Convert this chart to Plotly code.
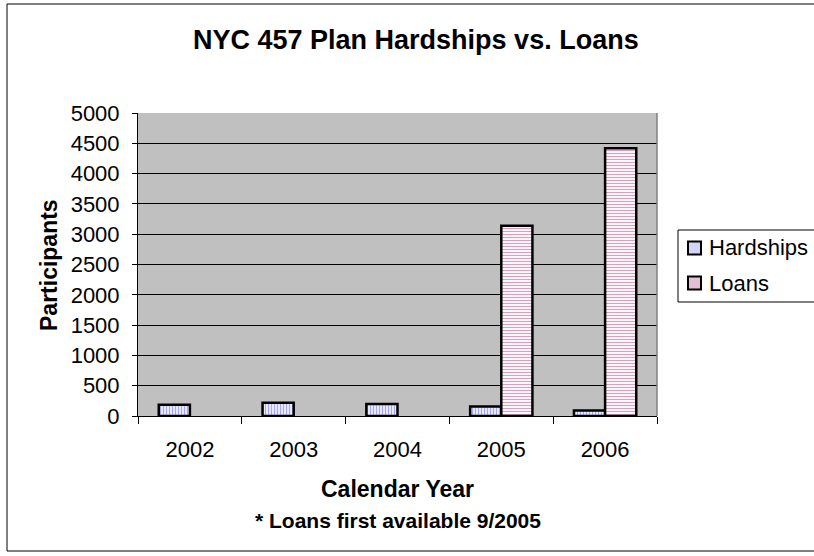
import plotly.graph_objects as go

# Calendar years and participant counts (loans did not exist before 2005)
years = ["2002", "2003", "2004", "2005", "2006"]
hardships = [185, 220, 200, 155, 90]
loans = [None, None, None, 3140, 4420]

series_names = ["Hardships", "Loans"]
y_ticks = list(range(0, 5001, 500))

FONT = "Arial, Liberation Sans, sans-serif"

# Canvas and plot-area geometry (pixels)
W_FIG, H_FIG = 814, 556
L, R_EDGE, T, B_EDGE = 138, 657, 113, 416
PW, PH = R_EDGE - L, B_EDGE - T


def px_x(px):
    return (px - L) / PW


def px_y(py):
    return (B_EDGE - py) / PH


# fill styles per series: (base colour, stripe colour, stripe shape, legend swatch)
styles = {
    "Hardships": ("#EEEEFF", "#A8A8F0", "|", "#D4D4FA"),
    "Loans": ("#FFFFFF", "#D4A2BE", "-", "#E6BED4"),
}

fig = go.Figure()
for name, vals in zip(series_names, [hardships, loans]):
    base, stripe, shape, _ = styles[name]
    fig.add_trace(go.Bar(
        name=name, x=years, y=vals, showlegend=False,
        marker=dict(
            color=base,
            line=dict(color="black", width=2.5),
            pattern=dict(shape=shape, fgcolor=stripe, bgcolor=base,
                         size=3, solidity=0.4, fillmode="replace"),
        ),
    ))

annotations = [
    dict(text="<b>NYC 457 Plan Hardships vs. Loans</b>", x=px_x(416), y=px_y(40),
         font=dict(size=27, family=FONT, color="black")),
    dict(text="<b>Participants</b>", x=px_x(49), y=px_y(265), textangle=-90,
         font=dict(size=23, family=FONT, color="black")),
    dict(text="<b>Calendar Year</b>", x=px_x(397), y=px_y(489),
         font=dict(size=23, family=FONT, color="black")),
    dict(text="<b>* Loans first available 9/2005</b>", x=px_x(398), y=px_y(520),
         font=dict(size=21, family=FONT, color="black")),
]
for a in annotations:
    a.update(xref="paper", yref="paper", xanchor="center", yanchor="middle",
             showarrow=False)

# the chart frame and the legend box run past the right edge of the canvas
FAR_RIGHT = 1200

shapes = [
    # outer chart frame (top, left, bottom edges)
    dict(type="path", xref="paper", yref="paper",
         path=f"M {px_x(FAR_RIGHT)},{px_y(4)} L {px_x(7)},{px_y(4)} "
              f"L {px_x(7)},{px_y(551)} L {px_x(FAR_RIGHT)},{px_y(551)}",
         line=dict(color="black", width=1), layer="below"),
    # right border of the plot area
    dict(type="line", xref="paper", yref="paper",
         x0=1, x1=1, y0=0, y1=1, line=dict(color="#808080", width=1.5)),
    # legend box (open on the right)
    dict(type="path", xref="paper", yref="paper",
         path=f"M {px_x(FAR_RIGHT)},{px_y(230)} L {px_x(678)},{px_y(230)} "
              f"L {px_x(678)},{px_y(302)} L {px_x(FAR_RIGHT)},{px_y(302)}",
         line=dict(color="black", width=1)),
]

# legend entries: swatch + label
for i, name in enumerate(series_names):
    cy = 248 + 35 * i
    shapes.append(dict(
        type="rect", xref="paper", yref="paper",
        x0=px_x(688), x1=px_x(701), y0=px_y(cy - 6.5), y1=px_y(cy + 6.5),
        line=dict(color="black", width=2), fillcolor=styles[name][3]))
    annotations.append(dict(
        text=name, xref="paper", yref="paper", x=px_x(707), y=px_y(cy),
        xanchor="left", yanchor="middle", showarrow=False,
        font=dict(size=22, family=FONT, color="black")))

fig.update_layout(
    width=W_FIG, height=H_FIG,
    margin=dict(l=L, r=W_FIG - R_EDGE, t=T, b=H_FIG - B_EDGE, autoexpand=False),
    paper_bgcolor="white",
    plot_bgcolor="#C0C0C0",
    barmode="group", bargap=0.4, bargroupgap=0,
    font=dict(family=FONT, color="black"),
    showlegend=False,
    annotations=annotations,
    shapes=shapes,
)

fig.update_xaxes(
    type="category", categoryorder="array", categoryarray=years,
    tickson="boundaries", ticks="outside", ticklen=7, tickcolor="black",
    tickwidth=1, showline=True, linecolor="black", linewidth=1,
    showgrid=False, tickfont=dict(size=22, family=FONT, color="black"),
    ticklabelstandoff=14,
)
fig.update_yaxes(
    range=[0, 5000], tickvals=y_ticks, ticktext=[str(v) for v in y_ticks],
    ticks="outside", ticklen=5, tickcolor="black", tickwidth=1,
    showline=True, linecolor="black", linewidth=1,
    showgrid=True, gridcolor="black", gridwidth=1,
    zeroline=False,
    tickfont=dict(size=22, family=FONT, color="black"),
    ticklabelstandoff=8,
)

fig.write_html("out.html")
